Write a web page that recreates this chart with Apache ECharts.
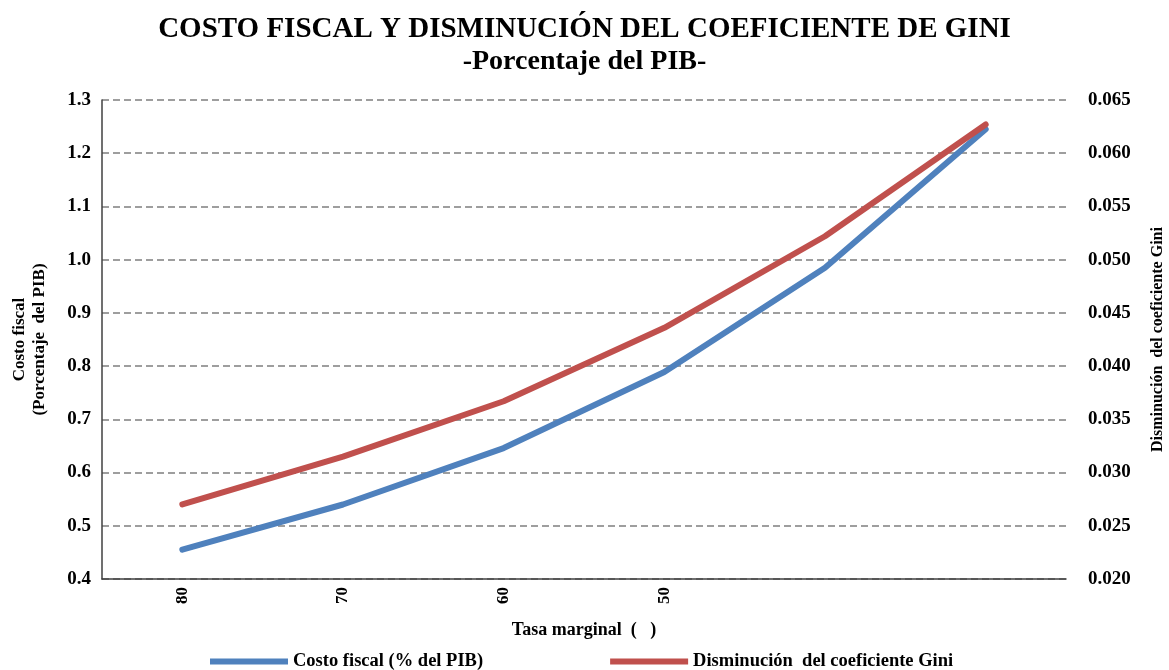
<!DOCTYPE html>
<html>
<head>
<meta charset="utf-8" />
<script src="https://cdn.jsdelivr.net/npm/echarts@6/dist/echarts.min.js"></script>
<style>
  html, body { margin: 0; padding: 0; background: #fff; }
  #chart { width: 1169px; height: 670px; }
</style>
</head>
<body>
<div id="chart"></div>
<script>
// tasa marginal (las dos ultimas sin etiqueta en el original)
var categories = ["80", "70", "60", "50", "", ""];
var costoFiscal = [0.455, 0.54, 0.646, 0.789, 0.985, 1.245];
var disminucionGini = [0.027, 0.0315, 0.0367, 0.0436, 0.0522, 0.0627];
var legendData = ["Costo fiscal (% del PIB)", "Disminución  del coeficiente Gini"];

var font = "'Liberation Serif', 'Times New Roman', serif";
var colorArr = ["#4F81BD", "#C0504D"];

var chart = echarts.init(document.getElementById("chart"));
var option = {
  backgroundColor: "#fff",
  color: colorArr,
  animation: false,
  title: {
    text: "COSTO FISCAL Y DISMINUCIÓN DEL COEFICIENTE DE GINI",
    subtext: "-Porcentaje del PIB-",
    left: "center",
    top: 10,
    itemGap: 4,
    textStyle: { fontFamily: font, fontWeight: "bold", fontSize: 29, color: "#000" },
    subtextStyle: { fontFamily: font, fontWeight: "bold", fontSize: 28, color: "#000" },
  },
  legend: {
    data: legendData,
    left: 205,
    top: 647,
    icon: "rect",
    itemWidth: 78,
    itemHeight: 6,
    itemGap: 127,
    textStyle: { fontFamily: font, fontWeight: "bold", fontSize: 18.5, color: "#000" },
  },
  grid: { left: 102, right: 103, top: 100, bottom: 91, outerBoundsMode: "none" },
  xAxis: {
    type: "category",
    data: categories,
    name: "Tasa marginal  (   )",
    nameLocation: "middle",
    nameGap: 42,
    nameTextStyle: { fontFamily: font, fontWeight: "bold", fontSize: 18, color: "#000" },
    axisLine: { lineStyle: { color: "#404040", width: 1.5 } },
    axisTick: { show: false },
    axisLabel: {
      rotate: 90,
      margin: 8,
      fontFamily: font,
      fontWeight: "bold",
      fontSize: 17,
      color: "#000",
    },
  },
  yAxis: [
    {
      type: "value",
      min: 0.4,
      max: 1.3,
      interval: 0.1,
      name: "Costo fiscal\n(Porcentaje  del PIB)",
      nameLocation: "middle",
      nameRotate: 90,
      nameGap: 52,
      nameTextStyle: { fontFamily: font, fontWeight: "bold", fontSize: 17, lineHeight: 20, color: "#000" },
      axisLine: { show: true, lineStyle: { color: "#404040", width: 1.5 } },
      axisTick: { show: false },
      axisLabel: {
        margin: 11,
        fontFamily: font,
        fontWeight: "bold",
        fontSize: 19,
        color: "#000",
        formatter: function (v) { return v.toFixed(1); },
      },
      splitLine: { lineStyle: { color: "#7f7f7f", width: 1.5, type: [7, 4] } },
    },
    {
      type: "value",
      min: 0.02,
      max: 0.065,
      interval: 0.005,
      name: "Disminución  del coeficiente Gini",
      nameLocation: "middle",
      nameRotate: 90,
      nameGap: 84,
      nameTextStyle: { fontFamily: font, fontWeight: "bold", fontSize: 16, color: "#000" },
      axisLine: { show: false },
      axisTick: { show: false },
      axisLabel: {
        margin: 22,
        fontFamily: font,
        fontWeight: "bold",
        fontSize: 19,
        color: "#000",
        formatter: function (v) { return v.toFixed(3); },
      },
      splitLine: { show: false },
    },
  ],
  series: [
    {
      name: legendData[0],
      type: "line",
      yAxisIndex: 0,
      data: costoFiscal,
      showSymbol: false,
      lineStyle: { width: 6, color: colorArr[0], cap: "round" },
    },
    {
      name: legendData[1],
      type: "line",
      yAxisIndex: 1,
      data: disminucionGini,
      showSymbol: false,
      lineStyle: { width: 6, color: colorArr[1], cap: "round" },
    },
  ],
};
chart.setOption(option);
</script>
</body>
</html>
